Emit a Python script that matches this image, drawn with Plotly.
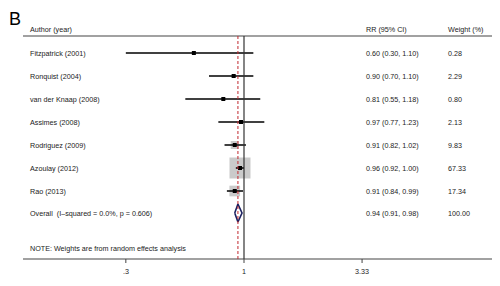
import math
import plotly.graph_objects as go

authors = ["Fitzpatrick (2001)", "Ronquist (2004)", "van der Knaap (2008)", "Assimes (2008)",
           "Rodriguez (2009)", "Azoulay (2012)", "Rao (2013)"]
rr = [0.60, 0.90, 0.81, 0.97, 0.91, 0.96, 0.91]
lo = [0.30, 0.70, 0.55, 0.77, 0.82, 0.92, 0.84]
hi = [1.10, 1.10, 1.18, 1.23, 1.02, 1.00, 0.99]
weights = [0.28, 2.29, 0.80, 2.13, 9.83, 67.33, 17.34]
overall_label = "Overall  (I\u2013squared = 0.0%, p = 0.606)"
overall = [0.94, 0.91, 0.98, 100.00]
tick_vals = [0.3, 1, 3.33]
tick_text = [".3", "1", "3.33"]

# page body has an 8px margin; figure fills the rest of the 500x286 window
OFF = 8
W, H = 500 - OFF, 286 - OFF
X1 = 244.0          # window pixel of RR = 1
PPL = 226.0         # pixels per log10 unit
row_y = [53, 76, 99, 122, 145, 168, 191]
overall_y = 213
top_y, axis_y = 36, 259
FONT = "Liberation Sans, Arial, sans-serif"
fs = 7.2

def px2paper(p):
    return (p - OFF) / W

fig = go.Figure()

cx, cy = [], []
for l, h, y in zip(lo, hi, row_y):
    cx += [l, h, None]
    cy += [y, y, None]

fig.add_trace(go.Scatter(x=rr, y=row_y, mode="markers",
                         marker=dict(symbol="square", color="#b4b4b4",
                                     size=[2.56 * math.sqrt(w) for w in weights],
                                     line=dict(width=0)),
                         hoverinfo="skip"))
fig.add_trace(go.Scatter(x=cx, y=cy, mode="lines", line=dict(color="black", width=1.5),
                         hoverinfo="skip"))
fig.add_trace(go.Scatter(x=rr, y=row_y, mode="markers",
                         marker=dict(symbol="square", color="black", size=4),
                         hoverinfo="skip"))
o, ol, oh, ow = overall
fig.add_trace(go.Scatter(x=[ol, o, oh, o, ol], y=[overall_y, overall_y - 9, overall_y, overall_y + 9, overall_y],
                         mode="lines", fill="toself", fillcolor="white",
                         line=dict(color="#1c2160", width=1.6), hoverinfo="skip"))

shapes = []
shapes.append(dict(type="line", xref="paper", yref="y", x0=px2paper(23), x1=px2paper(496),
                   y0=top_y, y1=top_y, line=dict(color="#444", width=1.2)))
shapes.append(dict(type="line", xref="paper", yref="y", x0=px2paper(23), x1=1,
                   y0=axis_y, y1=axis_y, line=dict(color="#444", width=1.2)))
shapes.append(dict(type="line", xref="x", yref="y", x0=1, x1=1, y0=top_y, y1=axis_y,
                   line=dict(color="#333", width=1.2)))
shapes.append(dict(type="line", xref="x", yref="y", x0=o, x1=o, y0=top_y, y1=axis_y,
                   line=dict(color="#c0272d", width=1, dash="3px,2px")))
for t in tick_vals:
    shapes.append(dict(type="line", xref="x", yref="y", x0=t, x1=t, y0=axis_y, y1=axis_y + 4,
                       line=dict(color="#444", width=1)))

ann = []
def txt(x, y, s, size=fs, anchor="left"):
    ann.append(dict(x=x, y=y, xref="paper", yref="y", text=s, showarrow=False,
                    xanchor=anchor, yanchor="middle", font=dict(family=FONT, size=size, color="#222")))

ann.append(dict(x=0, y=1, xref="paper", yref="paper", text="B", showarrow=False,
                xanchor="left", yanchor="top", borderpad=0,
                font=dict(family="Liberation Sans, Arial", size=18, color="black")))
txt(px2paper(28), 29, "Author (year)")
txt(px2paper(364), 29, "RR (95% CI)")
txt(px2paper(446), 29, "Weight (%)")
for a, r, l, h, w, y in zip(authors, rr, lo, hi, weights, row_y):
    txt(px2paper(28), y, a)
    txt(px2paper(364), y, f"{r:.2f} ({l:.2f}, {h:.2f})")
    txt(px2paper(446), y, f"{w:.2f}")
txt(px2paper(28), overall_y, overall_label)
txt(px2paper(364), overall_y, f"{o:.2f} ({ol:.2f}, {oh:.2f})")
txt(px2paper(446), overall_y, f"{ow:.2f}")
txt(px2paper(28), 248, "NOTE: Weights are from random effects analysis")
for t, s in zip(tick_vals, tick_text):
    ann.append(dict(x=math.log10(t), y=271, xref="x", yref="y", text=s, showarrow=False,
                    xanchor="center", yanchor="middle", font=dict(family=FONT, size=fs, color="#222")))

fig.update_layout(
    width=W, height=H, margin=dict(l=0, r=0, t=0, b=0),
    paper_bgcolor="white", plot_bgcolor="white", showlegend=False,
    xaxis=dict(type="log", range=[(OFF - X1) / PPL, (500 - X1) / PPL], visible=False, fixedrange=True),
    yaxis=dict(range=[286, OFF], visible=False, fixedrange=True),
    shapes=shapes, annotations=ann,
)
fig.write_html("out.html")
